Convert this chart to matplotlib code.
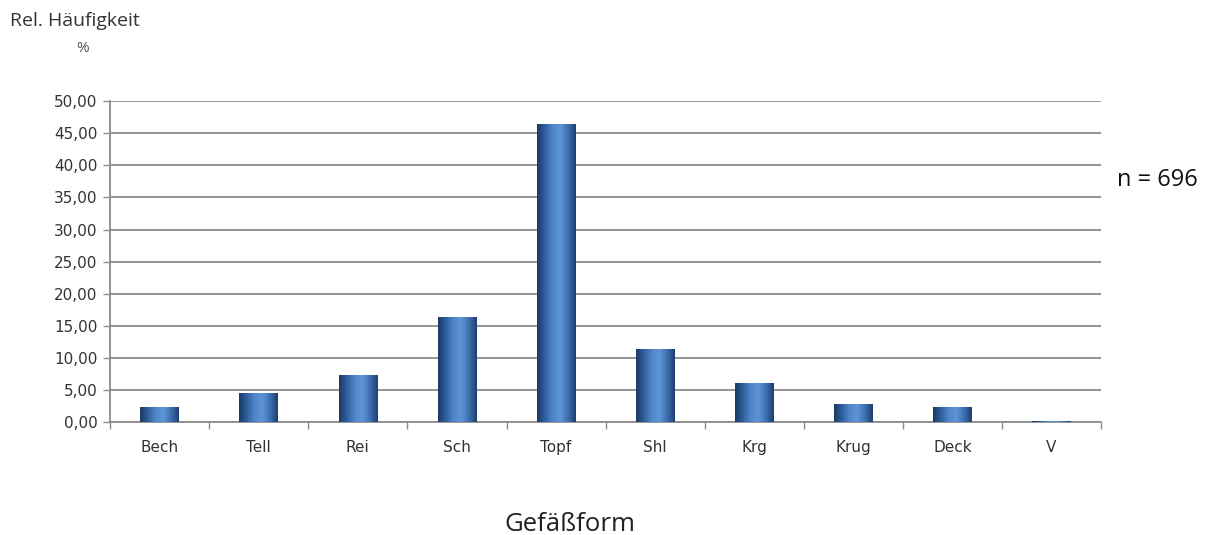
import numpy as np
import matplotlib.pyplot as plt
from matplotlib.colors import LinearSegmentedColormap

# Gefäßformen und relative Häufigkeit in %
formen = ["Bech", "Tell", "Rei", "Sch", "Topf", "Shl", "Krg", "Krug", "Deck", "V"]
haeufigkeit = [2.3, 4.5, 7.3, 16.4, 46.4, 11.4, 6.1, 2.8, 2.3, 0.15]
y_ticks = [0, 5, 10, 15, 20, 25, 30, 35, 40, 45, 50]

fig = plt.figure(figsize=(12.1, 5.35), dpi=100)
ax = fig.add_axes([0.091, 0.211, 0.819, 0.600])

x = np.arange(len(formen))
bars = ax.bar(x, haeufigkeit, width=0.39, color="#3a6db0", zorder=3)

# horizontaler Farbverlauf wie im Original (dunkle Ränder, heller Kern)
cmap = LinearSegmentedColormap.from_list(
    "bar", ["#1d3a66", "#2f5f9e", "#4f86c9", "#5e95d6", "#3e70b0", "#1f3f70"])
grad = np.linspace(0, 1, 64).reshape(1, -1)
for b in bars:
    bx, by = b.get_x(), b.get_y()
    bw, bh = b.get_width(), b.get_height()
    im = ax.imshow(grad, cmap=cmap, aspect="auto", zorder=4,
                   extent=(bx, bx + bw, by, by + bh))
    im.set_clip_path(b)

ax.set_xlim(-0.5, len(formen) - 0.5)
ax.set_ylim(0, 50)
ax.set_yticks(y_ticks)
ax.set_yticklabels([f"{v:.2f}".replace(".", ",") for v in y_ticks])
ax.grid(axis="y", color="#8c8c8c", linewidth=1.3, zorder=0)

ax.set_xticks(x)
ax.set_xticklabels(formen)
ax.set_xticks(np.arange(-0.5, len(formen)), minor=True)
ax.tick_params(axis="x", which="major", length=0, pad=13)
ax.tick_params(axis="x", which="minor", length=5, color="#8c8c8c", width=1)
ax.tick_params(axis="y", length=5, color="#8c8c8c", width=1, pad=4)
ax.tick_params(labelsize=11, labelcolor="#333333")

for s in ["top", "right"]:
    ax.spines[s].set_visible(False)
for s in ["left", "bottom"]:
    ax.spines[s].set_color("#8c8c8c")
    ax.spines[s].set_linewidth(1.3)

fig.text(0.008, 0.960, "Rel. Häufigkeit", fontsize=14, family="Open Sans",
         color="#333333", va="center")
fig.text(0.063, 0.910, "%", fontsize=11, family="Open Sans",
         color="#555555", va="center")
fig.text(0.471, 0.008, "Gefäßform", fontsize=18.5, family="Open Sans",
         color="#222222", ha="center", va="baseline")
fig.text(0.923, 0.664, "n = 696", fontsize=17, family="Open Sans",
         color="#111111", va="center")

fig.savefig("out.png", dpi=100, facecolor="white")
